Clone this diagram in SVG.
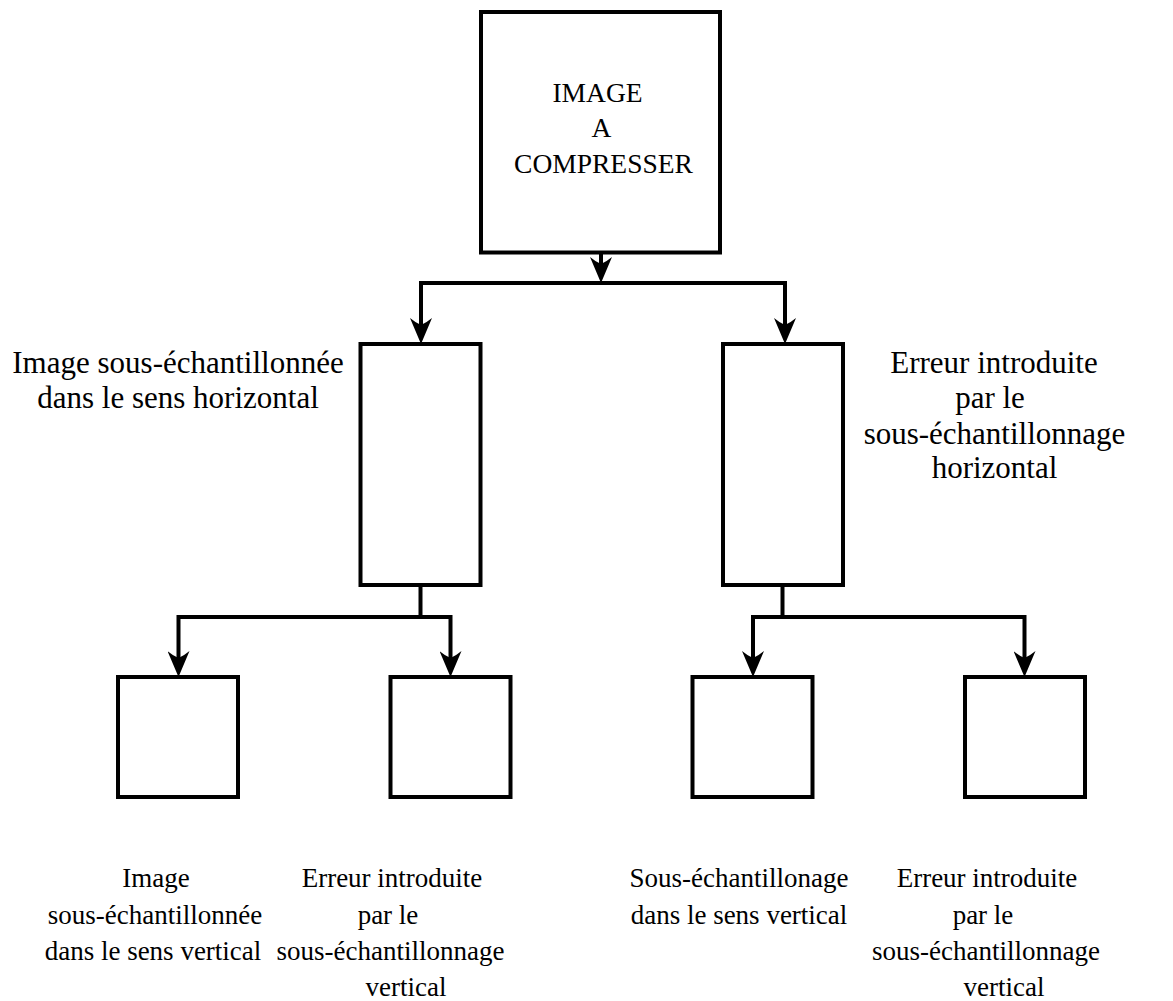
<svg xmlns="http://www.w3.org/2000/svg" width="1173" height="1001" viewBox="0 0 1173 1001">
<style>
.box{fill:#fff;stroke:#000;stroke-width:4}
.conn{fill:none;stroke:#000;stroke-width:4;stroke-linejoin:miter}
.arr{marker-end:url(#ah)}
.arr2{marker-start:url(#ah);marker-end:url(#ah)}
text{font-family:"Liberation Serif","Times New Roman",serif;fill:#000;text-anchor:middle}
.t1{font-size:27.5px}
.t2{font-size:31px}
.t3{font-size:27px}
</style>
<defs>
<marker id="ah" markerUnits="userSpaceOnUse" markerWidth="26" markerHeight="22" viewBox="0 0 26 22" refX="14" refY="11" orient="auto-start-reverse">
<path d="M26,11 L0,0 Q5,6 7,11 Q5,16 0,22 Z" fill="#000"/>
</marker>
</defs>
<rect width="1173" height="1001" fill="#fff"/>
<g id="connectors">
<path class="conn arr" d="M601,252.5 V271"/>
<path class="conn arr2" d="M421,332 V283 H785 V332"/>
<path class="conn" d="M420.5,585 V617"/>
<path class="conn arr2" d="M178.5,665 V617 H450.5 V665"/>
<path class="conn" d="M782.5,585 V617"/>
<path class="conn arr2" d="M753,665 V617 H1024.5 V665"/>
</g>
<g id="node-root">
<rect class="box" x="481" y="12" width="239" height="240.5"/>
<text class="t1" x="597.5" y="101.5">IMAGE</text>
<text class="t1" x="601.5" y="137">A</text>
<text class="t1" x="603.5" y="172.5">COMPRESSER</text>
</g>
<g id="node-h-low">
<rect class="box" x="360.5" y="344" width="120" height="241"/>
<text class="t2" x="178" y="373">Image sous-échantillonnée</text>
<text class="t2" x="178" y="408">dans le sens horizontal</text>
</g>
<g id="node-h-err">
<rect class="box" x="723" y="344" width="120" height="241"/>
<text class="t2" x="994" y="373">Erreur introduite</text>
<text class="t2" x="990" y="408">par le</text>
<text class="t2" x="994.5" y="443.5">sous-échantillonnage</text>
<text class="t2" x="994.5" y="478">horizontal</text>
</g>
<g id="node-ll">
<rect class="box" x="118" y="677" width="120" height="120"/>
<text class="t3" x="156" y="887">Image</text>
<text class="t3" x="155" y="924">sous-échantillonnée</text>
<text class="t3" x="153" y="960">dans le sens vertical</text>
</g>
<g id="node-lr">
<rect class="box" x="390.5" y="677" width="120" height="120"/>
<text class="t3" x="392" y="887">Erreur introduite</text>
<text class="t3" x="388" y="924">par le</text>
<text class="t3" x="390.5" y="960">sous-échantillonnage</text>
<text class="t3" x="406" y="996">vertical</text>
</g>
<g id="node-rl">
<rect class="box" x="692.5" y="677" width="120" height="120"/>
<text class="t3" x="739" y="887">Sous-échantillonage</text>
<text class="t3" x="739" y="924">dans le sens vertical</text>
</g>
<g id="node-rr">
<rect class="box" x="965" y="677" width="120" height="120"/>
<text class="t3" x="987" y="887">Erreur introduite</text>
<text class="t3" x="983" y="924">par le</text>
<text class="t3" x="986" y="960">sous-échantillonnage</text>
<text class="t3" x="1004" y="996">vertical</text>
</g>
</svg>
